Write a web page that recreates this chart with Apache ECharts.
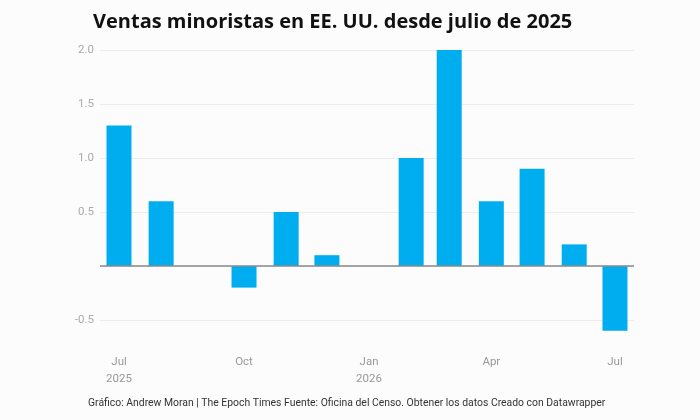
<!DOCTYPE html>
<html>
<head>
    <meta charset="utf-8">
    <title>Ventas minoristas</title>
    <script src="https://cdn.jsdelivr.net/npm/echarts@6/dist/echarts.min.js"></script>
    <style>
        body { margin: 0; background: #fcfcfc; }
    </style>
</head>
<body>
    <div id="main" style="width:700px;height:420px;"></div>
    <script type="text/javascript">

// monthly change, % (Sep 2025 and Jan 2026 not published)
var months = ['2025-07', '2025-08', '2025-09', '2025-10', '2025-11', '2025-12',
              '2026-01', '2026-02', '2026-03', '2026-04', '2026-05', '2026-06', '2026-07'];
var values = [1.3, 0.6, null, -0.2, 0.5, 0.1, null, 1.0, 2.0, 0.6, 0.9, 0.2, -0.6];

// x axis tick labels
var tickMonths = ['2025-07', '2025-10', '2026-01', '2026-04', '2026-07'];
var tickLabels = ['Jul\n2025', 'Oct', 'Jan\n2026', 'Apr', 'Jul'];

// dates as day numbers so the x axis keeps real month spacing
function toDay(s) {
    var p = s.split('-');
    return Date.UTC(+p[0], +p[1] - 1, p[2] ? +p[2] : 1) / 86400000;
}

var tickDays = tickMonths.map(toDay);
var seriesData = months.map(function (m, i) {
    return [toDay(m), values[i]];
});

var myChart = echarts.init(document.getElementById('main'));

var option = {
    backgroundColor: '#fcfcfc',
    textStyle: { fontFamily: 'Roboto' },
    title: {
        text: 'Ventas minoristas en EE. UU. desde julio de 2025',
        left: 88,
        top: 7,
        textStyle: {
            fontFamily: 'Open Sans',
            fontWeight: 'bold',
            fontSize: 20,
            color: '#111'
        }
    },
    graphic: [{
        type: 'text',
        left: 88,
        top: 398,
        style: {
            text: 'Gráfico: Andrew Moran | The Epoch Times Fuente: Oficina del Censo. Obtener los datos Creado con Datawrapper',
            font: '10.4px Roboto',
            fill: '#333'
        }
    }],
    grid: { left: 100, right: 66, top: 50, bottom: 100 },
    xAxis: {
        type: 'value',
        min: toDay('2025-06-17'),
        max: toDay('2026-07-15'),
        axisLine: { show: false },
        axisTick: { show: false },
        splitLine: { show: false },
        axisLabel: {
            customValues: tickDays,
            margin: 34,
            color: '#999',
            fontSize: 11.5,
            lineHeight: 17,
            formatter: function (v) {
                var i = tickDays.indexOf(v);
                return i >= 0 ? tickLabels[i] : '';
            }
        }
    },
    yAxis: {
        type: 'value',
        min: -0.5,
        max: 2.0,
        interval: 0.5,
        axisLine: { show: false },
        axisTick: { show: false },
        splitLine: { lineStyle: { color: '#ececec', width: 1 } },
        axisLabel: {
            margin: 6,
            color: '#aaa',
            fontSize: 11.5,
            formatter: function (v) {
                return v === 0 ? '' : v.toFixed(1);
            }
        }
    },
    series: [{
        type: 'bar',
        data: seriesData,
        barWidth: 25,
        clip: false,
        itemStyle: { color: '#00aeef' },
        markLine: {
            silent: true,
            symbol: 'none',
            label: { show: false },
            lineStyle: { color: '#8a8a8a', type: 'solid', width: 1.5 },
            data: [{ yAxis: 0 }]
        }
    }]
};

myChart.setOption(option);
    </script>
</body>
</html>
